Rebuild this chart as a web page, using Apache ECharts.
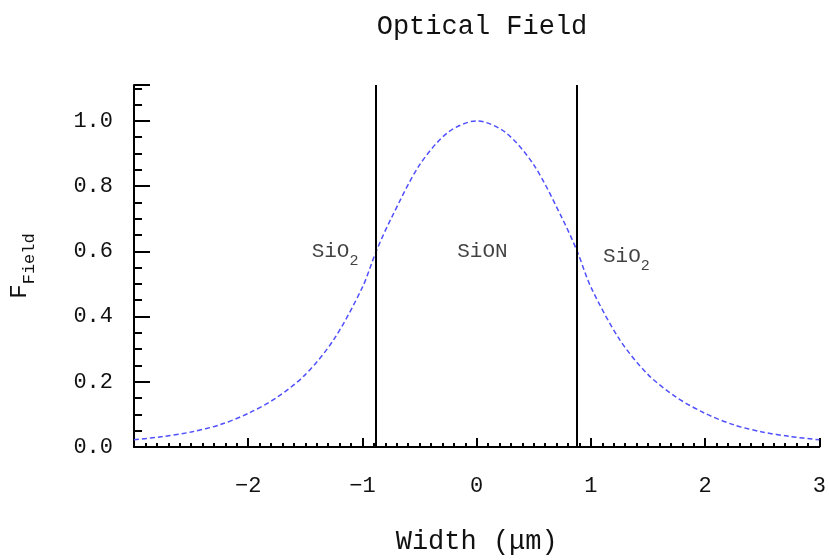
<!DOCTYPE html>
<html>
<head>
<meta charset="utf-8">
<script src="https://cdn.jsdelivr.net/npm/echarts@6/dist/echarts.min.js"></script>
<style>
  html, body { margin: 0; padding: 0; background: #fff; }
  #chart { width: 829px; height: 560px; }
</style>
</head>
<body>
<div id="chart"></div>
<script>
// Transverse position across the guide (µm) and normalised field amplitude
const widthUm = [-3, -2.75, -2.5, -2.25, -2, -1.75, -1.5, -1.25, -1, -0.88, -0.75, -0.5, -0.25, 0,
                 0.25, 0.5, 0.75, 0.88, 1, 1.25, 1.5, 1.75, 2, 2.25, 2.5, 2.75, 3];
const fieldAmp = [0.022, 0.032, 0.046, 0.068, 0.103, 0.152, 0.222, 0.33, 0.49, 0.6, 0.70, 0.865, 0.965, 1.0,
                  0.965, 0.865, 0.70, 0.6, 0.49, 0.33, 0.222, 0.152, 0.103, 0.068, 0.046, 0.032, 0.022];

// Core / cladding interfaces
const interfaces = [-0.88, 0.88];

// Region labels: [x, y, rich text]
const regionLabels = [
  [-1.24, 0.59, '{m|SiO}{s|2}'],
  [0.05, 0.588, '{m|SiON}'],
  [1.31, 0.575, '{m|SiO}{s|2}']
];

const xTicks = { min: -3, max: 3, step: 1 };
const yTicks = { min: 0, max: 1.11, step: 0.2 };

const FONT = '"Liberation Mono", "DejaVu Sans Mono", monospace';
const INK = '#111';

const chart = echarts.init(document.getElementById('chart'), null, { renderer: 'canvas' });

chart.setOption({
  animation: false,
  backgroundColor: '#fff',
  title: {
    text: 'Optical Field',
    left: 477,
    top: 8,
    textAlign: 'center',
    textStyle: { fontFamily: FONT, fontSize: 27, fontWeight: 'normal', color: INK }
  },
  grid: { left: 133, right: 8, top: 85, bottom: 104, containLabel: false },
  xAxis: {
    type: 'value',
    min: xTicks.min,
    max: xTicks.max,
    interval: xTicks.step,
    name: 'Width (\u03bcm)',
    nameLocation: 'middle',
    nameGap: 81,
    nameTextStyle: { fontFamily: FONT, fontSize: 27, color: INK },
    axisLine: { onZero: false, lineStyle: { color: '#000', width: 2 } },
    axisTick: { inside: true, length: 9, lineStyle: { color: '#000', width: 2 } },
    minorTick: { show: true, splitNumber: 10, length: 4, lineStyle: { color: '#000', width: 2 } },
    splitLine: { show: false },
    axisLabel: {
      margin: 28, showMinLabel: false,
      fontFamily: FONT, fontSize: 22, color: INK,
      formatter: v => String(v).replace('-', '\u2212')
    }
  },
  yAxis: {
    type: 'value',
    min: yTicks.min,
    max: yTicks.max,
    interval: yTicks.step,
    name: '{a|F}{b|Field}',
    nameLocation: 'middle',
    nameRotate: 90,
    nameGap: 96,
    nameTextStyle: {
      rich: {
        a: { fontFamily: FONT, fontSize: 24, color: INK, lineHeight: 30, verticalAlign: 'top' },
        b: { fontFamily: FONT, fontSize: 17, color: INK, lineHeight: 30, verticalAlign: 'bottom' }
      }
    },
    axisLine: { show: true, onZero: false, lineStyle: { color: '#000', width: 2 } },
    axisTick: { inside: true, length: 16, lineStyle: { color: '#000', width: 2 } },
    minorTick: { show: true, splitNumber: 4, length: 8, lineStyle: { color: '#000', width: 2 } },
    splitLine: { show: false },
    axisLabel: {
      margin: 21, showMaxLabel: false,
      fontFamily: FONT, fontSize: 22, color: INK,
      formatter: v => v.toFixed(1)
    }
  },
  series: [
    {
      type: 'line',
      data: widthUm.map((x, i) => [x, fieldAmp[i]]),
      smooth: 0.3,
      showSymbol: false,
      lineStyle: { color: '#5050ff', width: 1.5, type: [5, 3] },
      markLine: {
        silent: true,
        symbol: 'none',
        label: { show: false },
        lineStyle: { color: '#000', width: 2, type: 'solid' },
        data: interfaces.map(x => ({ xAxis: x }))
      },
      z: 3
    },
    {
      type: 'scatter',
      symbolSize: 0,
      silent: true,
      data: regionLabels.map(d => ({ value: [d[0], d[1]], text: d[2] })),
      label: {
        show: true,
        position: 'inside',
        formatter: p => p.data.text,
        rich: {
          m: { fontFamily: FONT, fontSize: 21, color: INK, lineHeight: 28, verticalAlign: 'top' },
          s: { fontFamily: FONT, fontSize: 15, color: INK, lineHeight: 28, verticalAlign: 'bottom' }
        }
      }
    }
  ]
});
</script>
</body>
</html>
